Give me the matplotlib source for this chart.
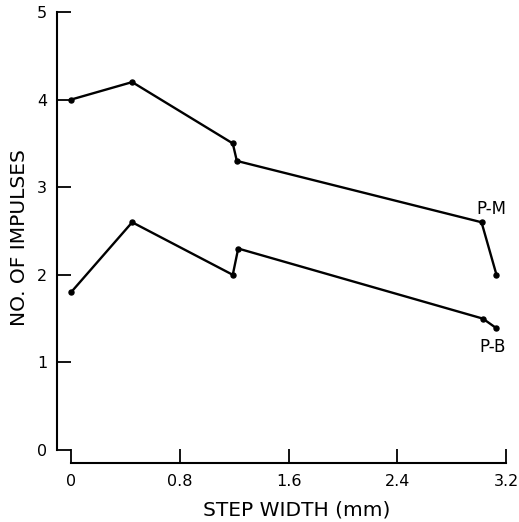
import numpy as np
import matplotlib
matplotlib.use("Agg")
import matplotlib.pyplot as plt

# step width (mm) vs number of impulses for the two fibre types
pm_x = [0.0, 0.45, 1.19, 1.22, 3.02, 3.13]
pm_y = [4.0, 4.2, 3.5, 3.3, 2.6, 2.0]
pb_x = [0.0, 0.45, 1.19, 1.23, 3.03, 3.13]
pb_y = [1.8, 2.6, 2.0, 2.3, 1.5, 1.39]

x_ticks = [0, 0.8, 1.6, 2.4, 3.2]
x_tick_labels = ["0", "0.8", "1.6", "2.4", "3.2"]
y_ticks = [0, 1, 2, 3, 4, 5]

plt.rcParams["font.family"] = ["DejaVu Sans"]

fig = plt.figure(figsize=(5.19, 5.22), dpi=100)
ax = fig.add_axes([57 / 519, 1 - 463 / 522, (506 - 57) / 519, (463 - 12) / 522])

for xs, ys in [(pm_x, pm_y), (pb_x, pb_y)]:
    ax.plot(xs, ys, color="black", lw=1.7, marker="o", ms=3.6, clip_on=False)

ax.set_xlim(-0.103, 3.2)
ax.set_ylim(-0.148, 5)

for s in ["top", "right"]:
    ax.spines[s].set_visible(False)
ax.spines["left"].set_bounds(0, 5)
ax.spines["bottom"].set_bounds(0, 3.2)
ax.spines["left"].set_linewidth(1.5)
ax.spines["bottom"].set_linewidth(1.5)

ax.set_xticks(x_ticks)
ax.set_xticklabels(x_tick_labels)
ax.set_yticks(y_ticks)
ax.tick_params(axis="both", direction="in", length=10, width=1.3,
               labelsize=11.5, colors="black")
ax.tick_params(axis="x", pad=8)
ax.tick_params(axis="y", pad=7)

ax.text(3.09, 2.75, "P-M", ha="center", va="center", fontsize=12)
ax.text(3.10, 1.18, "P-B", ha="center", va="center", fontsize=12)

fig.text(20 / 519, 1 - 238 / 522, "NO. OF IMPULSES", rotation=90,
         ha="center", va="center", fontsize=14.5)
fig.text(297 / 519, 1 - 510 / 522, "STEP WIDTH (mm)",
         ha="center", va="center", fontsize=14.5)

fig.savefig("out.png", dpi=100)
